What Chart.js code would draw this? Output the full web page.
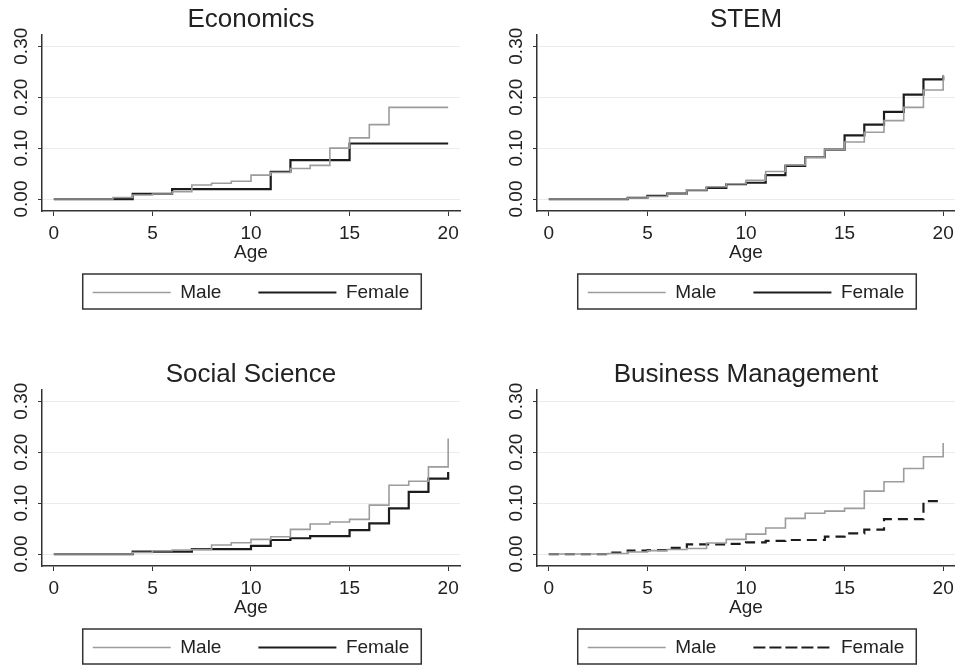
<!DOCTYPE html>
<html>
<head>
<meta charset="utf-8">
<script src="https://cdn.jsdelivr.net/npm/chart.js@4/dist/chart.umd.min.js"></script>
<style>
  body { margin: 0; background: #fff; overflow: hidden; width: 955px; height: 667px; position: relative; }
  canvas { position: absolute; }
</style>
</head>
<body>
<canvas id="econ" width="502" height="355" style="left:0;top:0"></canvas>
<canvas id="stem" width="502" height="355" style="left:495px;top:0"></canvas>
<canvas id="soc" width="502" height="355" style="left:0;top:355px"></canvas>
<canvas id="bus" width="502" height="355" style="left:495px;top:355px"></canvas>
<script>
const ages = [0, 1, 2, 3, 4, 5, 6, 7, 8, 9, 10, 11, 12, 13, 14, 15, 16, 17, 18, 19, 20];
const xTicks = [0, 5, 10, 15, 20];
const yTicks = [0, 0.1, 0.2, 0.3];
const seriesLabels = ['Male', 'Female'];
const panelTitles = ['Economics', 'STEM', 'Social Science', 'Business Management'];

const econMale   = [0, 0, 0, 0.003, 0.008, 0.01, 0.0144, 0.0275, 0.031, 0.035, 0.047, 0.052, 0.06, 0.066, 0.10, 0.12, 0.146, 0.18, 0.18, 0.18, 0.18];
const econFemale = [0, 0, 0, 0, 0.01, 0.01, 0.0196, 0.0196, 0.0196, 0.0196, 0.0196, 0.0535, 0.0765, 0.0765, 0.0765, 0.109, 0.109, 0.109, 0.109, 0.109, 0.109];

const stemMale   = [0, 0, 0, 0, 0.002, 0.005, 0.01, 0.018, 0.024, 0.03, 0.037, 0.054, 0.067, 0.082, 0.097, 0.112, 0.131, 0.154, 0.18, 0.214, 0.244];
const stemFemale = [0, 0, 0, 0, 0.0025, 0.006, 0.0105, 0.0176, 0.022, 0.029, 0.032, 0.047, 0.065, 0.082, 0.097, 0.125, 0.146, 0.171, 0.205, 0.235, 0.242];

const socMale   = [0, 0, 0, 0, 0.003, 0.0065, 0.008, 0.009, 0.0176, 0.022, 0.0288, 0.034, 0.0484, 0.0588, 0.063, 0.068, 0.096, 0.135, 0.143, 0.171, 0.227];
const socFemale = [0, 0, 0, 0, 0.0046, 0.0046, 0.0046, 0.0098, 0.0098, 0.0098, 0.016, 0.0275, 0.031, 0.035, 0.035, 0.047, 0.06, 0.0896, 0.122, 0.148, 0.161];

const busMale   = [0, 0, 0, 0.001, 0.004, 0.0066, 0.009, 0.011, 0.0216, 0.0288, 0.039, 0.051, 0.07, 0.08, 0.0843, 0.0896, 0.1235, 0.142, 0.168, 0.191, 0.218];
const busFemale = [0, 0, 0, 0.003, 0.0065, 0.0075, 0.012, 0.019, 0.019, 0.02, 0.023, 0.026, 0.0275, 0.0275, 0.034, 0.0405, 0.048, 0.0686, 0.0686, 0.104, 0.104];

Chart.defaults.font.family = "'Liberation Sans', Arial, sans-serif";
Chart.defaults.color = '#222';

// box drawn round the legend items, like the Stata legend frame
const legendFrame = {
  id: 'legendFrame',
  afterDraw(chart) {
    const boxes = chart.legend.legendHitBoxes;
    if (!boxes.length) return;
    const left = Math.min(...boxes.map(b => b.left)) - 10;
    const right = Math.max(...boxes.map(b => b.left + b.width)) + 12;
    const top = boxes[0].top - 9;
    const bottom = boxes[0].top + boxes[0].height + 7;
    const ctx = chart.ctx;
    ctx.save();
    ctx.strokeStyle = '#333';
    ctx.lineWidth = 1.5;
    ctx.strokeRect(left, top, right - left, bottom - top);
    ctx.restore();
  }
};

function drawPanel(id, title, male, female, femaleDash) {
  new Chart(document.getElementById(id), {
    type: 'line',
    data: {
      datasets: [{
        label: seriesLabels[0],
        data: ages.map((a, i) => ({x: a, y: male[i]})),
        borderColor: '#9c9c9c',
        backgroundColor: 'transparent',
        borderWidth: 1.6,
        stepped: 'before',
        pointRadius: 0
      }, {
        label: seriesLabels[1],
        data: ages.map((a, i) => ({x: a, y: female[i]})),
        borderColor: '#1c1c1c',
        backgroundColor: 'transparent',
        borderWidth: 2.2,
        borderDash: femaleDash,
        stepped: 'before',
        pointRadius: 0
      }]
    },
    options: {
      responsive: false,
      animation: false,
      layout: {padding: {top: 0, left: 0, right: 42, bottom: 43}},
      plugins: {
        title: {
          display: true,
          text: title,
          fullSize: false,
          color: '#222',
          font: {size: 26, weight: 'normal'},
          padding: {top: 4, bottom: 0}
        },
        legend: {
          position: 'bottom',
          fullSize: false,
          labels: {
            boxWidth: 78,
            boxHeight: 0,
            padding: 37,
            color: '#222',
            font: {size: 19}
          }
        },
        tooltip: {enabled: false}
      },
      scales: {
        x: {
          type: 'linear',
          bounds: 'data',
          min: -0.6,
          max: 20.6,
          afterBuildTicks: s => { s.ticks = xTicks.map(v => ({value: v})); },
          afterFit: s => { s.height = 35; },
          grid: {drawOnChartArea: false, tickLength: 5, tickColor: '#333'},
          border: {color: '#333', width: 1.5},
          ticks: {font: {size: 19}, padding: 6, color: '#222', maxRotation: 0},
          title: {display: true, text: 'Age', color: '#222', font: {size: 19}, padding: {top: 0, bottom: -18}}
        },
        y: {
          type: 'linear',
          bounds: 'data',
          min: -0.0235,
          max: 0.3216,
          afterBuildTicks: s => { s.ticks = yTicks.map(v => ({value: v})); },
          afterFit: s => { s.width = 42; },
          grid: {color: '#ebebeb', lineWidth: 1, tickLength: 4, tickColor: '#333'},
          border: {color: '#333', width: 1.5},
          ticks: {
            font: {size: 19},
            padding: -2,
            color: '#222',
            minRotation: 90,
            maxRotation: 90,
            crossAlign: 'center',
            callback: v => v.toFixed(2)
          }
        }
      }
    },
    plugins: [legendFrame]
  });
}

drawPanel('econ', panelTitles[0], econMale, econFemale, []);
drawPanel('stem', panelTitles[1], stemMale, stemFemale, []);
drawPanel('soc', panelTitles[2], socMale, socFemale, []);
drawPanel('bus', panelTitles[3], busMale, busFemale, [10, 6]);
</script>
</body>
</html>
